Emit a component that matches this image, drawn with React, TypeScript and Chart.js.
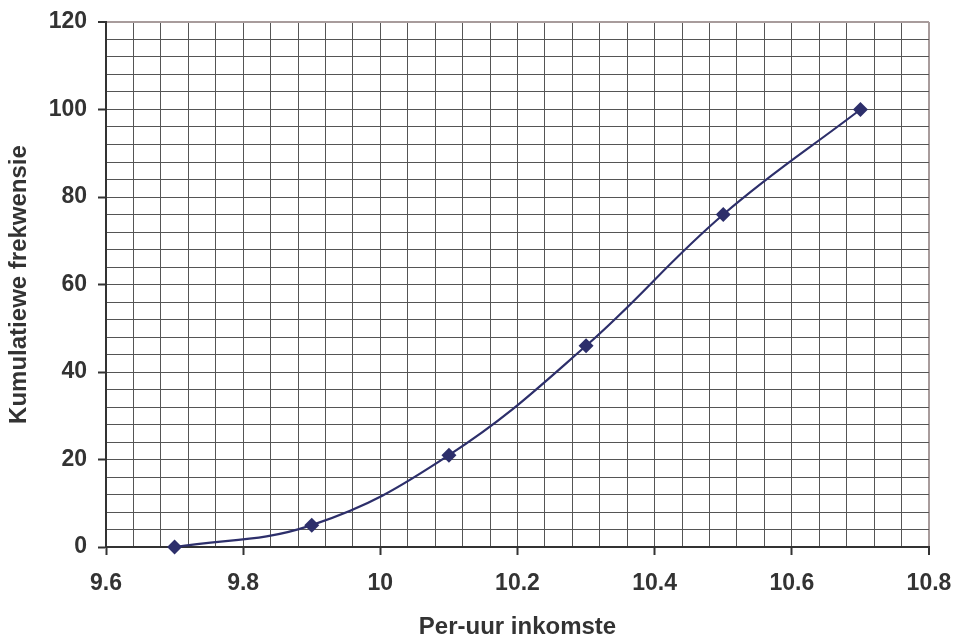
import React, { useEffect, useRef } from "react";
import { Chart, registerables } from "chart.js";

Chart.register(...registerables);

const incomeValues = [9.7, 9.9, 10.1, 10.3, 10.5, 10.7];
const cumulativeFreq = [0, 5, 21, 46, 76, 100];
const xTitle = "Per-uur inkomste";
const yTitle = "Kumulatiewe frekwensie";

const isMult = (v: number, step: number) => Math.abs(v / step - Math.round(v / step)) < 1e-6;

export default function App() {
  const ref = useRef<HTMLCanvasElement | null>(null);
  useEffect(() => {
    document.body.style.margin = "0";
    if (!ref.current) return;
    const font = { family: "'Liberation Sans', Arial, sans-serif", size: 23, weight: "bold" as const, lineHeight: 1 };
    const titleFont = { family: "'Liberation Sans', Arial, sans-serif", size: 24, weight: "bold" as const, lineHeight: 1 };
    const gridColor = "#555";
    const edgeColor = "#a89c9c";
    const chart = new Chart(ref.current, {
      type: "line",
      data: {
        datasets: [
          {
            data: incomeValues.map((x, i) => ({ x, y: cumulativeFreq[i] })),
            borderColor: "#2d2f6b",
            backgroundColor: "#2d2f6b",
            borderWidth: 2.2,
            pointStyle: "rectRot",
            pointRadius: 7.5,
            pointBorderWidth: 0,
            tension: 0.4,
            fill: false,
            clip: false as any,
          },
        ],
      },
      options: {
        animation: false,
        responsive: true,
        maintainAspectRatio: false,
        layout: { padding: { top: 22, right: 27, left: 0, bottom: 0 } },
        plugins: { legend: { display: false }, tooltip: { enabled: false } },
        scales: {
          x: {
            type: "linear",
            min: 9.6,
            max: 10.8,
            afterFit: (s: any) => {
              s.height = 92;
              s.paddingLeft = 0;
              s.paddingRight = 0;
            },
            ticks: {
              stepSize: 0.04,
              autoSkip: false,
              maxRotation: 0,
              padding: 17,
              color: "#333",
              font,
              callback: (v: any) => (isMult(Number(v), 0.2) ? String(Math.round(Number(v) * 10) / 10) : ""),
            },
            grid: {
              color: (c: any) => (c.tick && Math.abs(c.tick.value - 10.8) < 1e-6 ? edgeColor : gridColor),
              lineWidth: (c: any) => (c.tick && Math.abs(c.tick.value - 10.8) < 1e-6 ? 2 : 1),
              tickLength: 8,
              tickColor: (c: any) => (c.tick && isMult(c.tick.value, 0.2) ? "#333" : "rgba(0,0,0,0)"),
              tickWidth: 2,
            },
            border: { color: "#333", width: 2 },
            title: { display: true, text: xTitle, color: "#333", font: titleFont, padding: { top: 0, bottom: 0 } },
          },
          y: {
            type: "linear",
            min: 0,
            max: 120,
            afterFit: (s: any) => {
              s.width = 106;
              s.paddingTop = 0;
              s.paddingBottom = 0;
            },
            ticks: {
              stepSize: 4,
              autoSkip: false,
              padding: 11,
              color: "#333",
              font,
              callback: (v: any) => (isMult(Number(v), 20) ? String(Math.round(Number(v))) : ""),
            },
            grid: {
              color: (c: any) => (c.tick && Math.abs(c.tick.value - 120) < 1e-6 ? edgeColor : gridColor),
              lineWidth: (c: any) => (c.tick && Math.abs(c.tick.value - 120) < 1e-6 ? 2 : 1),
              tickLength: 8,
              tickColor: (c: any) => (c.tick && isMult(c.tick.value, 20) ? "#333" : "rgba(0,0,0,0)"),
              tickWidth: 2,
            },
            border: { color: "#333", width: 2 },
            title: { display: true, text: yTitle, color: "#333", font: titleFont, padding: { top: 7, bottom: 0 } },
          },
        },
      },
    });
    return () => chart.destroy();
  }, []);
  return (
    <div style={{ position: "fixed", left: 0, top: 0, width: 956, height: 639, background: "#fff" }}>
      <canvas ref={ref} />
    </div>
  );
}
